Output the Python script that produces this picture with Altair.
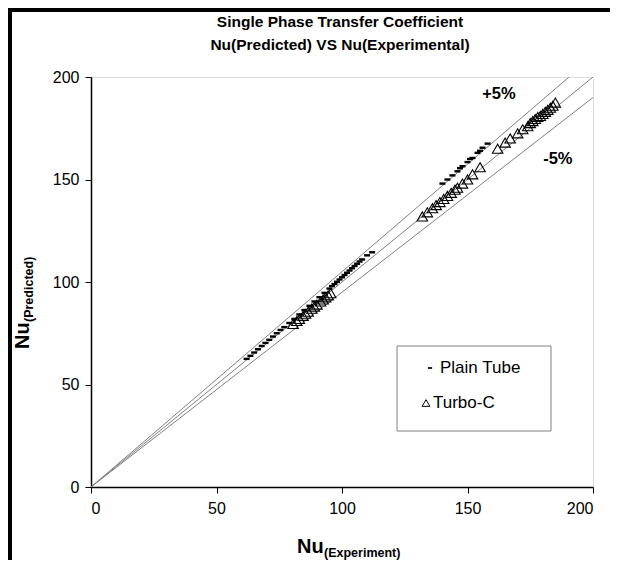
import altair as alt
import pandas as pd

# ---- data ----
plain_x = [62, 63.5, 65, 66.5, 68, 69.5, 71, 72.5, 74, 75.5, 77, 79, 81, 83, 85, 87, 89, 91, 93,
           95, 96, 97, 98, 99, 100, 101, 102, 103, 104, 105, 106, 107, 108, 110, 112,
           140, 142, 144, 146, 147, 148, 150, 151, 152, 154, 155, 156, 158]
plain_y = [62.5, 64, 65.6, 67.2, 68.8, 70.3, 71.8, 73.4, 75, 76.6, 78, 80, 82, 84.2, 86.3, 88.4, 90.5, 92.6, 94.7,
           96.8, 98, 99, 100.1, 101.2, 102.3, 103.4, 104.5, 105.6, 106.7, 107.8, 108.9, 110, 111, 113, 114.5,
           148, 150, 152, 154, 155.5, 156.5, 158.5, 160, 160.5, 163, 164, 165.5, 167.5]

turbo_x = [80.5, 82, 83, 84.5, 85.5, 86.5, 88, 89, 90, 91.5, 92.5, 93.5, 94.5, 95.5,
           132, 134, 136, 137.5, 139, 140.5, 142, 143.5, 145, 146, 148, 150, 152, 155,
           162, 165, 167, 170, 172, 174, 175, 176, 177, 178, 179, 180, 181, 182, 183, 184, 185]
turbo_y = [79.5, 81, 82, 83.5, 84.5, 85.5, 87, 88, 89, 90.5, 91.5, 92.5, 93.5, 94.5,
           132, 134, 136, 137.5, 139, 140.5, 142, 143.5, 145, 146, 148, 150, 152.5, 156,
           165, 168, 170, 172.5, 174.5, 176, 177.5, 178.5, 179.5, 180.5, 181, 182, 183, 184, 185, 186, 187.5]

series_names = ["Plain Tube", "Turbo-C"]

ref_x = [0, 200]
ref_plus = [0, 210]
ref_zero = [0, 200]
ref_minus = [0, 190]

tick_vals = [0, 50, 100, 150, 200]

title_lines = ["Single Phase Transfer Coefficient", "Nu(Predicted) VS Nu(Experimental)"]
label_plus = "+5%"
label_minus = "-5%"
label_plus_pos = [162.5, 191.5]
label_minus_pos = [186, 160]

# ---- tables ----
plain = pd.DataFrame({"x": plain_x, "y": plain_y})
turbo = pd.DataFrame({"x": turbo_x, "y": turbo_y})
refs = pd.DataFrame({
    "x": ref_x * 3,
    "y": ref_plus + ref_zero + ref_minus,
    "line": ["+5"] * 2 + ["0"] * 2 + ["-5"] * 2,
})
ann = pd.DataFrame({
    "x": [label_plus_pos[0], label_minus_pos[0]],
    "y": [label_plus_pos[1], label_minus_pos[1]],
    "t": [label_plus, label_minus],
})

W, H = 502, 410
FONT = "Liberation Sans"
DASH = "M-1,-0.4H1V0.4H-1Z"

xs = alt.Scale(domain=[0, 200], nice=False, zero=True)
ys = alt.Scale(domain=[0, 200], nice=False, zero=True)

xax = alt.Axis(values=tick_vals, title=None, grid=False, domainColor="black", domainWidth=1.5,
               tickColor="black", tickSize=6, tickWidth=1, labelFontSize=16, labelFont=FONT,
               labelColor="black", labelPadding=7)
yax = alt.Axis(values=tick_vals, title=None, grid=False, domainColor="black", domainWidth=1.5,
               tickColor="black", tickSize=6, tickWidth=1, labelFontSize=16, labelFont=FONT,
               labelColor="black", labelPadding=6)

lines = alt.Chart(refs).mark_line(color="#808080", strokeWidth=1, clip=True).encode(
    x=alt.X("x:Q", scale=xs, axis=xax),
    y=alt.Y("y:Q", scale=ys, axis=yax),
    detail="line:N",
)

plain_pts = alt.Chart(plain).mark_point(shape=DASH, filled=True, color="black", size=36, opacity=1).encode(
    x=alt.X("x:Q", scale=xs), y=alt.Y("y:Q", scale=ys))
turbo_pts = alt.Chart(turbo).mark_point(shape="triangle-up", filled=False, color="black", strokeWidth=1.1,
                                        size=110, opacity=1).encode(
    x=alt.X("x:Q", scale=xs), y=alt.Y("y:Q", scale=ys))

annot = alt.Chart(ann).mark_text(font=FONT, fontSize=16.5, fontWeight="bold", color="black").encode(
    x=alt.X("x:Q", scale=xs), y=alt.Y("y:Q", scale=ys), text="t:N")

dummy = pd.DataFrame({"a": [0]})

# title (two lines, as text)
title1 = alt.Chart(dummy).mark_text(text=title_lines[0], font=FONT, fontSize=15.5, fontWeight="bold",
                                    align="center", baseline="middle", color="black").encode(
    x=alt.value(249), y=alt.value(-55))
title2 = alt.Chart(dummy).mark_text(text=title_lines[1], font=FONT, fontSize=15.5, fontWeight="bold",
                                    align="center", baseline="middle", color="black").encode(
    x=alt.value(249), y=alt.value(-32))

# legend (drawn by hand)
leg_box = alt.Chart(dummy).mark_rect(fill="white", stroke="#808080", strokeWidth=1).encode(
    x=alt.value(306), x2=alt.value(460), y=alt.value(269), y2=alt.value(354))
leg_sym1 = alt.Chart(dummy).mark_point(shape=DASH, filled=True, color="black", size=18, opacity=1).encode(
    x=alt.value(339), y=alt.value(291))
leg_sym2 = alt.Chart(dummy).mark_point(shape="triangle-up", filled=False, color="black", strokeWidth=1,
                                       size=60, opacity=1).encode(x=alt.value(335), y=alt.value(326))
leg_t1 = alt.Chart(dummy).mark_text(text=series_names[0], font=FONT, fontSize=17, align="left",
                                    baseline="middle", color="black").encode(x=alt.value(349), y=alt.value(291))
leg_t2 = alt.Chart(dummy).mark_text(text=series_names[1], font=FONT, fontSize=17, align="left",
                                    baseline="middle", color="black").encode(x=alt.value(342), y=alt.value(326))

nu_x = alt.Chart(dummy).mark_text(text="Nu", font=FONT, fontSize=20, fontWeight="bold", align="left",
                                  baseline="alphabetic", color="black").encode(
    x=alt.value(206), y=alt.value(476))
sub_x = alt.Chart(dummy).mark_text(text="(Experiment)", font=FONT, fontSize=12.5, fontWeight="bold",
                                   align="left", baseline="alphabetic", color="black").encode(
    x=alt.value(233), y=alt.value(480))
nu_y = alt.Chart(dummy).mark_text(text="Nu", font=FONT, fontSize=20, fontWeight="bold", align="left",
                                  baseline="alphabetic", angle=270, color="black").encode(
    x=alt.value(-62), y=alt.value(272))
sub_y = alt.Chart(dummy).mark_text(text="(Predicted)", font=FONT, fontSize=12.5, fontWeight="bold",
                                   align="left", baseline="alphabetic", angle=270, color="black").encode(
    x=alt.value(-58), y=alt.value(245))

frame_l = alt.Chart(dummy).mark_rule(color="black", strokeWidth=4).encode(
    x=alt.value(-81), y=alt.value(-69), y2=alt.value(483))
frame_t = alt.Chart(dummy).mark_rule(color="black", strokeWidth=4).encode(
    x=alt.value(-83), x2=alt.value(519), y=alt.value(-67))

chart = alt.layer(frame_l, frame_t, lines, plain_pts, turbo_pts, annot,
                  leg_box, leg_sym1, leg_sym2, leg_t1, leg_t2,
                  title1, title2, nu_x, sub_x, nu_y, sub_y).properties(
    width=W, height=H,
    autosize=alt.AutoSizeParams(type="none"),
    padding={"left": 83, "top": 69, "right": 17, "bottom": 73},
).configure_view(stroke="black", strokeWidth=1.5).configure(background="white")

chart.save("out.html", embed_options={"renderer": "svg", "actions": False})
